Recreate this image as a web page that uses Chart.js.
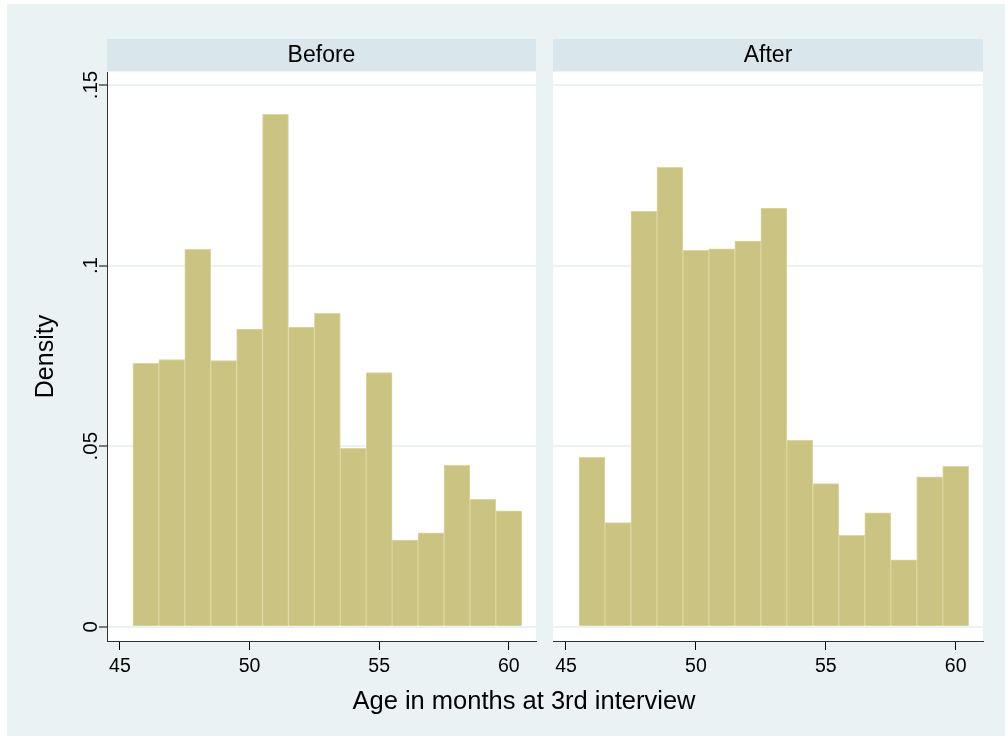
<!DOCTYPE html>
<html>
<head>
<meta charset="utf-8">
<script src="https://cdn.jsdelivr.net/npm/chart.js@4/dist/chart.umd.min.js"></script>
<style>
  html, body { margin: 0; padding: 0; background: #fff; }
  #frame { position: absolute; left: 7px; top: 4px; width: 998px; height: 732px; background: #eaf2f3; }
  canvas { position: absolute; top: 0; }
  #left { left: 0; }
  #right { left: 545px; }
  #xtitle {
    position: absolute; left: 274px; width: 500px; top: 686px;
    line-height: 30px; text-align: center; color: #000;
    font: 25.5px "Liberation Sans", Arial, sans-serif;
  }
</style>
</head>
<body>
<div id="frame"></div>
<canvas id="left" width="545" height="736"></canvas>
<canvas id="right" width="460" height="736"></canvas>
<div id="xtitle">Age in months at 3rd interview</div>
<script>
// age bins (bin centres, width 1 month)
const ageBins = [46, 47, 48, 49, 50, 51, 52, 53, 54, 55, 56, 57, 58, 59, 60];
const beforeDensity = [0.0729, 0.0740, 0.1045, 0.0737, 0.0824, 0.1419, 0.0830, 0.0868,
  0.0494, 0.0704, 0.0240, 0.0260, 0.0447, 0.0353, 0.0321];
const afterDensity = [0.0469, 0.0288, 0.1150, 0.1272, 0.1042, 0.1046, 0.1068, 0.1159,
  0.0516, 0.0396, 0.0253, 0.0315, 0.0185, 0.0415, 0.0444];
const xTicks = [45, 50, 55, 60];
const yTicks = [0, 0.05, 0.1, 0.15];
const yTickLabels = ["0", ".05", ".1", ".15"];
const panelLabels = ["Before", "After"];

Chart.defaults.font.family = '"Liberation Sans", Arial, sans-serif';
Chart.defaults.color = "#000";

// white plot region + grey-blue strip header with the panel name
const panelFrame = {
  id: "panelFrame",
  beforeDraw(chart, args, opts) {
    const { ctx, chartArea: a } = chart;
    ctx.save();
    ctx.fillStyle = "#fff";
    ctx.fillRect(a.left, a.top, a.right - a.left, a.bottom - a.top);
    ctx.fillStyle = "#d9e6eb";
    ctx.fillRect(a.left, 39, a.right - a.left, 32);
    ctx.fillStyle = "#000";
    ctx.font = '23px "Liberation Sans", Arial, sans-serif';
    ctx.textAlign = "center";
    ctx.textBaseline = "middle";
    ctx.fillText(opts.label, (a.left + a.right) / 2, 56);
    ctx.restore();
  }
};

function makePanel(id, label, values, showY, padLeft, padRight) {
  const ctx = document.getElementById(id).getContext("2d");
  return new Chart(ctx, {
    type: "bar",
    data: {
      datasets: [{
        data: ageBins.map((x, i) => ({ x: x, y: values[i] })),
        backgroundColor: "#cbc382",
        borderColor: "#dcd6a2",
        borderWidth: 1,
        barPercentage: 1,
        categoryPercentage: 1
      }]
    },
    options: {
      responsive: false,
      animation: false,
      events: [],
      layout: { padding: { left: padLeft, right: padRight, top: 72, bottom: 0 } },
      plugins: {
        legend: { display: false },
        tooltip: { enabled: false },
        panelFrame: { label: label }
      },
      scales: {
        x: {
          type: "linear",
          min: 44.5,
          max: 61.05,
          offset: false,
          afterBuildTicks: s => { s.ticks = xTicks.map(v => ({ value: v })); },
          afterFit: s => { s.height = 95; },
          ticks: { font: { size: 19.5 }, padding: 5, maxRotation: 0, autoSkip: false },
          grid: { offset: false, drawOnChartArea: false, tickLength: 9, tickColor: "#000", tickWidth: 1 },
          border: { color: "#333", width: 1 }
        },
        y: {
          type: "linear",
          min: -0.00396,
          max: 0.1536,
          afterBuildTicks: s => { s.ticks = yTicks.map(v => ({ value: v })); },
          afterFit: s => { s.width = showY ? 107 : 0; },
          ticks: {
            display: showY,
            minRotation: 90,
            maxRotation: 90,
            crossAlign: "center",
            padding: -6.5,
            font: { size: 20.5 },
            callback: (v, i) => yTickLabels[i]
          },
          grid: { color: "#eaf2f3", lineWidth: 2, drawTicks: showY, tickLength: 8, tickColor: "#000", tickWidth: 1 },
          border: { display: showY, color: "#333", width: 1 },
          title: {
            display: showY,
            text: "Density",
            font: { size: 25, lineHeight: 1 },
            padding: { top: 33.5, bottom: 0 }
          }
        }
      }
    },
    plugins: [panelFrame]
  });
}

makePanel("left", panelLabels[0], beforeDensity, true, 0, 9);
makePanel("right", panelLabels[1], afterDensity, false, 8, 22);
</script>
</body>
</html>
